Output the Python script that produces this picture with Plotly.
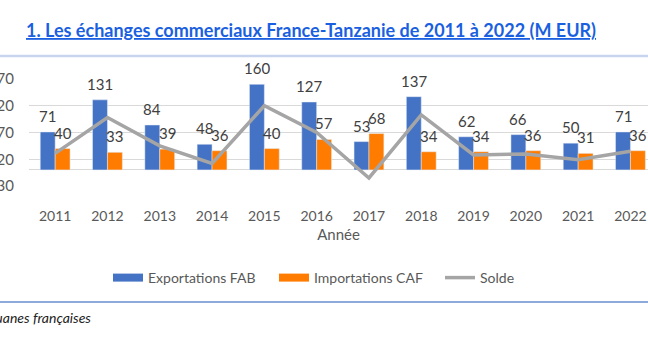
import plotly.graph_objects as go

# Échanges commerciaux France-Tanzanie (M EUR)
years = [2011, 2012, 2013, 2014, 2015, 2016, 2017, 2018, 2019, 2020, 2021, 2022]
exportations = [71, 131, 84, 48, 160, 127, 53, 137, 62, 66, 50, 71]
importations = [40, 33, 39, 36, 40, 57, 68, 34, 34, 36, 31, 36]
solde = [31, 98, 45, 12, 120, 70, -15, 103, 28, 30, 19, 35]
y_ticks = [-30, 20, 70, 120, 170]

BLUE = "#4472C4"
ORANGE = "#FF7C00"
GREY = "#A5A5A5"
TEXT = "#595959"
LABEL = "#404040"
FONT = "Lato, 'Noto Sans', sans-serif"

W, H = 648, 349
M_L, M_R, M_T, M_B = 29, 0, 79, 163
BARGAP = 0.43
half = (1 - BARGAP) / 4  # centre offset of each bar within a year group

plot_w = W - M_L - M_R
plot_h = H - M_T - M_B


def px_x(x):
    return (x - M_L) / plot_w


def px_y(y):
    return (H - M_B - y) / plot_h


fig = go.Figure()
fig.add_trace(go.Bar(x=years, y=exportations, name="Exportations FAB",
                     marker=dict(color=BLUE), showlegend=False))
fig.add_trace(go.Bar(x=years, y=importations, name="Importations CAF",
                     marker=dict(color=ORANGE), showlegend=False))
fig.add_trace(go.Scatter(x=years, y=solde, name="Solde", mode="lines",
                         line=dict(color=GREY, width=3.5), showlegend=False))

# legend entries drawn as wide swatches
for name, color, width in [("Exportations FAB", BLUE, 8),
                           ("Importations CAF", ORANGE, 8),
                           ("Solde", GREY, 3.5)]:
    fig.add_trace(go.Scatter(x=[None], y=[None], mode="lines", name=name,
                             line=dict(color=color, width=width)))

annotations = []
for yr, e, i in zip(years, exportations, importations):
    for xv, v in ((yr - half, e), (yr + half, i)):
        annotations.append(dict(x=xv, y=v, xref="x", yref="y", text=str(v),
                                showarrow=False, yanchor="middle", yshift=16,
                                font=dict(family=FONT, size=15, color=LABEL)))

annotations.append(dict(
    x=px_x(24), y=px_y(30), xref="paper", yref="paper", xanchor="left", yanchor="middle",
    text="<u><b>1. Les échanges commerciaux France-Tanzanie de 2011 à 2022 (M EUR)</b></u>",
    showarrow=False, font=dict(family=FONT, size=18, color="#1A5FE0")))
annotations.append(dict(
    x=px_x(93), y=px_y(317), xref="paper", yref="paper", xanchor="right", yanchor="middle",
    text="<i>Source : Douanes françaises</i>", showarrow=False,
    font=dict(family=FONT, size=14, color="#222222")))

shapes = [
    dict(type="line", xref="paper", yref="paper", x0=px_x(0), x1=px_x(W),
         y0=px_y(56), y1=px_y(56), line=dict(color="#C8D4EE", width=2.5)),
    dict(type="line", xref="paper", yref="paper", x0=px_x(0), x1=px_x(W),
         y0=px_y(302), y1=px_y(302), line=dict(color="#8EA9DB", width=2)),
]

fig.update_layout(
    width=W, height=H,
    margin=dict(l=M_L, r=M_R, t=M_T, b=M_B, autoexpand=False),
    paper_bgcolor="white", plot_bgcolor="white",
    barmode="group", bargap=BARGAP, bargroupgap=0,
    font=dict(family=FONT, size=14, color=TEXT),
    annotations=annotations, shapes=shapes,
    legend=dict(orientation="h", x=px_x(108), y=px_y(278), xanchor="left", yanchor="middle",
                font=dict(family=FONT, size=14, color=TEXT), entrywidth=121,
                bgcolor="rgba(0,0,0,0)"),
    xaxis=dict(range=[years[0] - 0.5, years[0] - 0.5 + plot_w / 52.3],
               tickvals=years, ticktext=[str(y) for y in years],
               showgrid=False, zeroline=False, showline=False, ticks="",
               ticklabelstandoff=20, tickfont=dict(size=14, color=TEXT),
               title=dict(text="Année", standoff=6, font=dict(size=15, color=TEXT)),
               automargin=False),
    yaxis=dict(range=[-30, 170], tickvals=y_ticks, showgrid=True, gridcolor="#D9D9D9",
               gridwidth=1, zeroline=True, zerolinecolor="#D9D9D9", zerolinewidth=1,
               showline=False, ticks="", ticklabelstandoff=14,
               tickfont=dict(size=15, color=TEXT), automargin=False),
)

fig.write_html("out.html")
